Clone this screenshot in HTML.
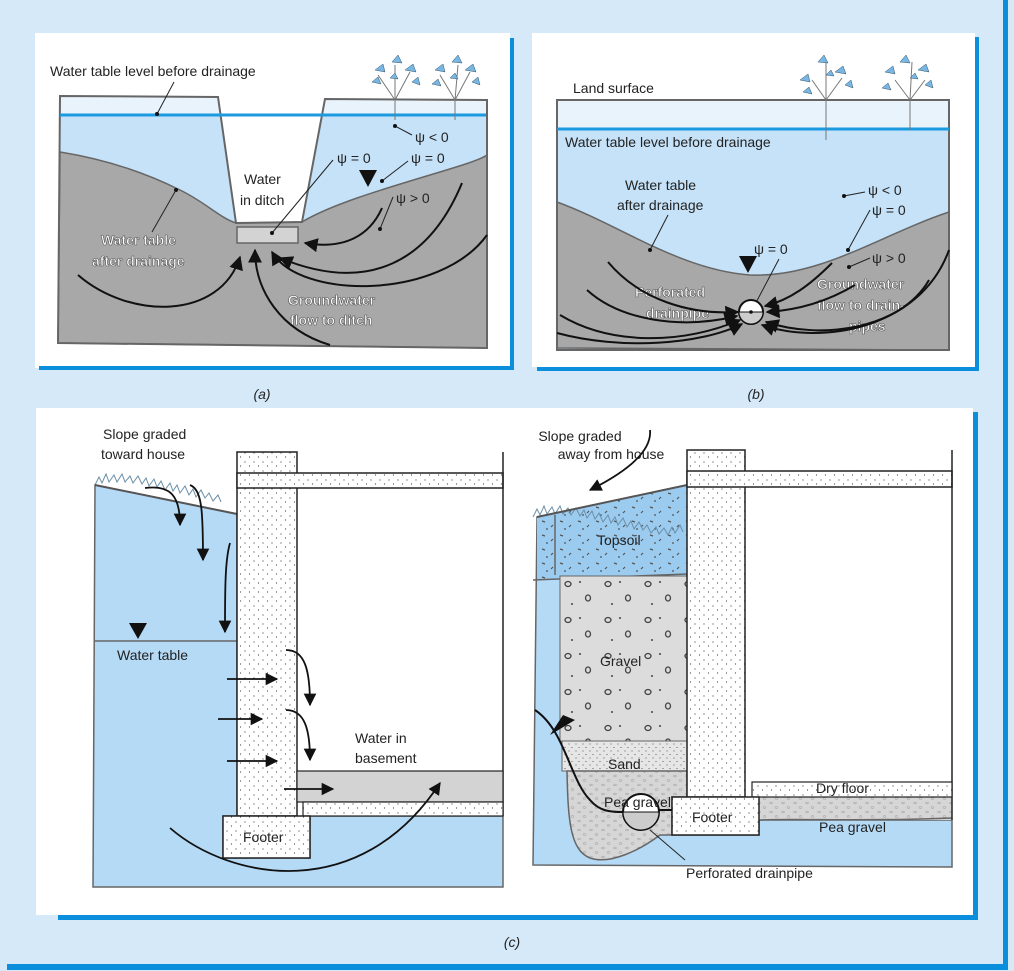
<!DOCTYPE html>
<html><head><meta charset="utf-8"><style>
html,body{margin:0;padding:0;background:#d6e9f8;}
svg{display:block;font-family:"Liberation Sans",sans-serif;}
</style></head><body>
<svg width="1014" height="971" viewBox="0 0 1014 971" xmlns="http://www.w3.org/2000/svg">
<defs>
<marker id="ah" viewBox="0 0 10 10" refX="9" refY="5" markerWidth="7" markerHeight="7" orient="auto"><path d="M0,0 L10,5 L0,10 z" fill="#111"/></marker>
<pattern id="dots" width="9" height="9" patternUnits="userSpaceOnUse"><rect width="9" height="9" fill="#fff"/><circle cx="2" cy="3" r="0.6" fill="#444"/><circle cx="6.5" cy="7" r="0.6" fill="#444"/></pattern>
<pattern id="sand" width="7" height="7" patternUnits="userSpaceOnUse"><rect width="7" height="7" fill="#e6e6e6"/><circle cx="2" cy="2" r="0.5" fill="#333"/><circle cx="5" cy="5.5" r="0.5" fill="#333"/></pattern>
<pattern id="pea" width="12" height="9" patternUnits="userSpaceOnUse"><rect width="12" height="9" fill="#d6d6d6"/><ellipse cx="3" cy="2" rx="1.5" ry="0.9" fill="none" stroke="#999" stroke-width="0.5"/><ellipse cx="8.5" cy="6.5" rx="1.5" ry="0.9" fill="none" stroke="#999" stroke-width="0.5"/></pattern>
<pattern id="top" width="18" height="14" patternUnits="userSpaceOnUse"><rect width="18" height="14" fill="#9ccbf0"/><path d="M2,3 l3,1 M11,9 l2,-2 M6,11 l2,0" stroke="#555" stroke-width="1.2"/></pattern>
<pattern id="grav" width="40" height="36" patternUnits="userSpaceOnUse"><rect width="40" height="36" fill="#dcdcdc"/><ellipse cx="8" cy="8" rx="3" ry="2.5" fill="none" stroke="#444" stroke-width="1.3"/><ellipse cx="28" cy="22" rx="2.5" ry="3" fill="none" stroke="#444" stroke-width="1.3"/><circle cx="20" cy="6" r="1" fill="#444"/><circle cx="12" cy="28" r="1" fill="#444"/></pattern>
</defs>
<rect width="1014" height="971" fill="#d6e9f8"/>
<rect x="1003" y="0" width="5" height="970" fill="#0b8fdc"/>
<rect x="7" y="964" width="1001" height="6" fill="#0b8fdc"/>

<!-- Panel a -->
<rect x="35" y="33" width="475" height="335" fill="#fff"/>
<rect x="510" y="38" width="4" height="332" fill="#0b8fdc"/>
<rect x="39" y="366" width="475" height="4" fill="#0b8fdc"/>
<polygon points="60,96 218,97 236,223 302,222 325,99 487,100 487,348 58,343" fill="#c5e2f8"/>
<polygon points="60,96 218,97 221,115 60,115" fill="#e8f3fc"/>
<polygon points="322,115 325,99 487,100 487,115" fill="#e8f3fc"/>
<path d="M60,152 C110,160 150,175 180,190 C205,202 220,218 236,223 L302,222 C330,205 380,190 430,175 C460,166 480,160 487,155 L487,348 L58,343 Z" fill="#a8a8a8" stroke="#666" stroke-width="1.5"/>
<polygon points="60,96 218,97 236,223 302,222 325,99 487,100 487,348 58,343" fill="none" stroke="#666" stroke-width="2"/>
<line x1="60" y1="115" x2="486" y2="115" stroke="#1b9ae0" stroke-width="3"/>
<rect x="237" y="227" width="61" height="16" fill="#d3d3d3" stroke="#666" stroke-width="1.5"/>
<text x="50" y="76" font-size="14" fill="#222">Water table level before drainage</text>
<line x1="174" y1="82" x2="157" y2="114" stroke="#222"/><circle cx="157" cy="114" r="2" fill="#111"/>
<text x="244" y="184" font-size="14" fill="#222">Water</text>
<text x="240" y="205" font-size="14" fill="#222">in ditch</text>
<line x1="333" y1="160" x2="272" y2="233" stroke="#222"/><circle cx="272" cy="233" r="2" fill="#111"/>
<text x="337" y="163" font-size="14" fill="#222">ψ = 0</text>
<text x="411" y="163" font-size="14" fill="#222">ψ = 0</text>
<line x1="408" y1="161" x2="382" y2="181" stroke="#222"/><circle cx="382" cy="181" r="2" fill="#111"/>
<polygon points="359,170 377,170 368,187" fill="#111"/>
<text x="415" y="142" font-size="14" fill="#222">ψ &lt; 0</text>
<line x1="412" y1="135" x2="395" y2="126" stroke="#222"/><circle cx="395" cy="126" r="2" fill="#111"/>
<text x="396" y="203" font-size="14" fill="#222">ψ &gt; 0</text>
<line x1="393" y1="197" x2="380" y2="229" stroke="#222"/><circle cx="380" cy="229" r="2" fill="#111"/>
<circle cx="176" cy="190" r="2" fill="#111"/>
<line x1="176" y1="190" x2="152" y2="232" stroke="#222"/>
<g font-size="14" font-weight="bold" fill="#fff" stroke="#555" stroke-width="0.6">
<text x="101" y="245">Water table</text><text x="92" y="266">after drainage</text>
<text x="288" y="305">Groundwater</text><text x="290" y="325">flow to ditch</text></g>
<g fill="none" stroke="#111" stroke-width="2" marker-end="url(#ah)">
<path d="M78,275 C130,320 220,320 240,257"/>
<path d="M330,345 C280,330 255,290 255,250"/>
<path d="M487,235 C440,300 300,300 272,252"/>
<path d="M382,208 C370,235 345,250 305,243"/>
<path d="M462,183 C430,260 370,295 280,258"/>
</g>
<!-- plants a -->
<g stroke="#777" stroke-width="1" fill="none"><path d="M395,100 L395,120 M395,100 L378,75 M395,100 L410,72 M395,100 L395,65 M455,100 L455,120 M455,100 L440,75 M455,100 L470,72 M455,100 L458,65"/></g>
<g fill="#79b6e4" stroke="#356" stroke-width="0.5">
<path d="M375,70 l8,-6 l2,8z M392,62 l6,-7 l4,8z M405,70 l8,-6 l3,8z M412,82 l6,-5 l2,8z M372,82 l6,-5 l3,7z M435,70 l8,-6 l2,8z M452,62 l6,-7 l4,8z M465,70 l8,-6 l3,8z M472,82 l6,-5 l2,8z M432,84 l6,-5 l3,7z M390,78 l5,-5 l3,6z M450,78 l5,-5 l3,6z"/></g>
<text x="262" y="399" font-size="14" font-style="italic" fill="#222" text-anchor="middle">(a)</text>

<!-- Panel b -->
<rect x="532" y="33" width="443" height="334" fill="#fff"/>
<rect x="975" y="37" width="4" height="334" fill="#0b8fdc"/>
<rect x="537" y="367" width="442" height="4" fill="#0b8fdc"/>
<rect x="557" y="100" width="392" height="250" fill="#c5e2f8"/>
<rect x="557" y="100" width="392" height="29" fill="#e8f3fc"/>
<path d="M557,202 C620,225 680,270 750,275 C820,278 880,235 949,212 L949,350 L557,348 Z" fill="#a8a8a8" stroke="#666" stroke-width="1.5"/>
<rect x="557" y="100" width="392" height="250" fill="none" stroke="#666" stroke-width="2"/>
<line x1="557" y1="129" x2="949" y2="129" stroke="#1b9ae0" stroke-width="3"/>
<text x="573" y="93" font-size="14" fill="#222">Land surface</text>
<text x="565" y="147" font-size="14" fill="#222">Water table level before drainage</text>
<text x="625" y="190" font-size="14" fill="#222">Water table</text>
<text x="617" y="210" font-size="14" fill="#222">after drainage</text>
<line x1="668" y1="215" x2="650" y2="250" stroke="#222"/><circle cx="650" cy="250" r="2" fill="#111"/>
<text x="754" y="254" font-size="14" fill="#222">ψ = 0</text>
<polygon points="739,256 757,256 748,273" fill="#111"/>
<line x1="779" y1="259" x2="751" y2="312" stroke="#222"/>
<text x="868" y="195" font-size="14" fill="#222">ψ &lt; 0</text>
<line x1="865" y1="192" x2="844" y2="196" stroke="#222"/><circle cx="844" cy="196" r="2" fill="#111"/>
<text x="872" y="215" font-size="14" fill="#222">ψ = 0</text>
<line x1="870" y1="210" x2="848" y2="250" stroke="#222"/><circle cx="848" cy="250" r="2" fill="#111"/>
<text x="872" y="263" font-size="14" fill="#222">ψ &gt; 0</text>
<line x1="870" y1="258" x2="849" y2="267" stroke="#222"/><circle cx="849" cy="267" r="2" fill="#111"/>
<g font-size="14" font-weight="bold" fill="#fff" stroke="#555" stroke-width="0.6">
<text x="635" y="297">Perforated</text><text x="646" y="318">drainpipe</text>
<text x="817" y="289">Groundwater</text><text x="817" y="310">flow to drain-</text><text x="849" y="331">pipes</text></g>
<g fill="none" stroke="#111" stroke-width="2" marker-end="url(#ah)">
<path d="M608,262 C640,300 690,315 738,312"/>
<path d="M587,290 C620,320 680,330 737,316"/>
<path d="M560,315 C610,345 680,345 740,320"/>
<path d="M557,333 C620,350 700,345 742,324"/>
<path d="M832,263 C810,285 790,300 765,306"/>
<path d="M855,285 C830,300 800,310 767,312"/>
<path d="M929,280 C900,330 820,340 766,322"/>
<path d="M949,250 C920,330 820,345 762,325"/>
</g>
<circle cx="751" cy="312" r="12" fill="#fff" stroke="#111" stroke-width="2"/>
<path d="M739,312 L763,312 A12,12 0 0 1 739,312z" fill="#ccc" stroke="#111" stroke-width="1"/>
<circle cx="751" cy="312" r="1.8" fill="#111"/>
<g stroke="#777" stroke-width="1" fill="none"><path d="M826,100 L826,140 M826,100 L812,80 M826,100 L842,78 M826,100 L826,60 M910,100 L910,130 M910,100 L895,80 M910,100 L925,80 M910,100 L912,62"/></g>
<g fill="#79b6e4" stroke="#356" stroke-width="0.5">
<path d="M800,80 l8,-6 l2,8z M818,62 l6,-7 l4,8z M835,72 l8,-6 l3,8z M845,85 l6,-5 l2,8z M803,92 l6,-5 l3,7z M885,72 l8,-6 l2,8z M900,62 l6,-7 l4,8z M918,70 l8,-6 l3,8z M925,85 l6,-5 l2,8z M882,88 l6,-5 l3,7z M826,75 l5,-5 l3,6z M910,78 l5,-5 l3,6z"/></g>
<text x="756" y="399" font-size="14" font-style="italic" fill="#222" text-anchor="middle">(b)</text>

<!-- Panel c -->
<rect x="36" y="408" width="937" height="507" fill="#fff"/>
<rect x="973" y="412" width="5" height="508" fill="#0b8fdc"/>
<rect x="58" y="915" width="920" height="5" fill="#0b8fdc"/>
<!-- left scene -->
<polygon points="95,485 237,514 237,816 223,816 223,858 310,858 310,816 503,816 503,887 93,887" fill="#b5daf6" stroke="#666" stroke-width="1.5"/>
<line x1="95" y1="641" x2="237" y2="641" stroke="#666" stroke-width="1.5"/>
<path d="M95,485 l4,-8 l3,6 l4,-9 l3,8 l5,-7 l3,7 l5,-8 l3,8 l5,-6 l3,7 l5,-7 l4,8 l4,-6 l3,8 l5,-7 l3,8 l4,-6 l4,9 l5,-7 l3,8 l4,-6 l3,8 l5,-7 l4,9 l4,-6 l3,8 l5,-7 l4,8 l4,-5 l4,8 l5,-6 l3,7" fill="none" stroke="#6a8fa8" stroke-width="1"/>
<line x1="95" y1="485" x2="237" y2="514" stroke="#555" stroke-width="2"/>
<rect x="237" y="452" width="60" height="364" fill="url(#dots)" stroke="#222" stroke-width="1.5"/>
<rect x="237" y="473" width="266" height="15" fill="url(#dots)" stroke="#222" stroke-width="1.5"/>
<line x1="503" y1="452" x2="503" y2="816" stroke="#222" stroke-width="1.5"/>
<rect x="297" y="771" width="206" height="31" fill="#d3d3d3" stroke="#222" stroke-width="1.2"/>
<rect x="303" y="802" width="200" height="14" fill="url(#dots)" stroke="#222" stroke-width="1.2"/>
<rect x="223" y="816" width="87" height="42" fill="url(#dots)" stroke="#222" stroke-width="1.5"/>
<polygon points="129,623 147,623 138,639" fill="#111"/>
<text x="103" y="439" font-size="14" fill="#222">Slope graded</text>
<text x="101" y="459" font-size="14" fill="#222">toward house</text>
<text x="117" y="660" font-size="14" fill="#222">Water table</text>
<text x="355" y="743" font-size="14" fill="#222">Water in</text>
<text x="355" y="763" font-size="14" fill="#222">basement</text>
<text x="243" y="842" font-size="14" fill="#222">Footer</text>
<g fill="none" stroke="#111" stroke-width="1.8" marker-end="url(#ah)">
<path d="M145,488 C170,485 180,495 180,525"/>
<path d="M190,485 C202,490 203,510 203,560"/>
<path d="M230,543 C225,560 225,590 225,632"/>
<path d="M227,679 L277,679"/><path d="M218,719 L262,719"/><path d="M227,761 L277,761"/>
<path d="M286,650 C305,650 310,670 310,705"/>
<path d="M286,710 C305,710 310,730 310,760"/>
<path d="M284,789 L333,789"/>
<path d="M170,828 C230,880 360,905 440,783"/>
</g>
<!-- right scene -->
<polygon points="537,517 687,485 687,797 672,797 672,835 759,835 759,820 952,820 952,867 533,865" fill="#b5daf6" stroke="#666" stroke-width="1.5"/>
<polygon points="537,517 687,485 687,574 537,580" fill="url(#top)"/>
<line x1="555" y1="515" x2="555" y2="575" stroke="#666" stroke-width="1.5"/>
<line x1="533" y1="580" x2="687" y2="574" stroke="#666" stroke-width="1.5"/>
<rect x="560" y="576" width="127" height="165" fill="url(#grav)" stroke="#666" stroke-width="1"/>
<rect x="562" y="741" width="125" height="30" fill="url(#sand)" stroke="#666" stroke-width="1"/>
<path d="M567,771 L687,771 L687,797 L672,797 L672,835 L660,835 C640,850 610,865 590,858 C570,850 568,820 567,771Z" fill="url(#pea)" stroke="#666" stroke-width="1.5"/>
<path d="M759,820 L952,820 L952,797 L759,797Z" fill="url(#pea)"/>
<path d="M759,820 C800,818 850,822 952,818" fill="none" stroke="#666" stroke-width="1.5"/>
<path d="M533,517 l4,-8 l3,6 l4,-9 l3,8 l5,-7 l3,7 l5,-8 l3,8 l5,-6 l3,7 l5,-7 l4,8 l4,-6 l3,8 l5,-7 l3,8 l4,-6 l4,9 l5,-7 l3,8 l4,-6 l3,8 l5,-7 l4,9 l4,-6 l3,8 l5,-7 l4,8 l4,-5 l4,8 l5,-6 l3,7 l5,-6 l4,7 l4,-8 l3,6 l5,-8 l3,7" fill="none" stroke="#6a8fa8" stroke-width="1"/>
<line x1="537" y1="517" x2="687" y2="485" stroke="#555" stroke-width="2"/>
<rect x="687" y="450" width="58" height="347" fill="url(#dots)" stroke="#222" stroke-width="1.5"/>
<rect x="687" y="471" width="265" height="16" fill="url(#dots)" stroke="#222" stroke-width="1.5"/>
<line x1="952" y1="450" x2="952" y2="820" stroke="#222" stroke-width="1.5"/>
<rect x="752" y="782" width="200" height="15" fill="url(#dots)" stroke="#222" stroke-width="1.2"/>
<rect x="672" y="797" width="87" height="38" fill="url(#dots)" stroke="#222" stroke-width="1.5"/>
<path d="M535,710 C565,730 570,780 590,800 C600,812 612,812 623,812" fill="none" stroke="#111" stroke-width="2"/>
<polygon points="563,715 550,735 575,720" fill="#111"/>
<path d="M645,810 L672,810" stroke="#111" stroke-width="2"/>
<circle cx="641" cy="812" r="18" fill="#fff" stroke="#111" stroke-width="2"/>
<path d="M623,812 L659,812 A18,18 0 0 1 623,812z" fill="#ccc" stroke="#111" stroke-width="1"/>
<line x1="650" y1="830" x2="685" y2="860" stroke="#222"/>
<path d="M650,430 C652,450 630,470 590,490" fill="none" stroke="#111" stroke-width="1.8" marker-end="url(#ah)"/>
<text x="580" y="441" font-size="14" fill="#222" text-anchor="middle">Slope graded</text>
<text x="611" y="459" font-size="14" fill="#222" text-anchor="middle">away from house</text>
<text x="597" y="545" font-size="14" fill="#222">Topsoil</text>
<text x="600" y="666" font-size="14" fill="#222">Gravel</text>
<text x="608" y="769" font-size="14" fill="#222">Sand</text>
<text x="604" y="807" font-size="14" fill="#222">Pea gravel</text>
<text x="692" y="822" font-size="14" fill="#222">Footer</text>
<text x="816" y="793" font-size="14" fill="#222">Dry floor</text>
<text x="819" y="832" font-size="14" fill="#222">Pea gravel</text>
<text x="686" y="878" font-size="14" fill="#222">Perforated drainpipe</text>
<text x="512" y="947" font-size="14" font-style="italic" fill="#222" text-anchor="middle">(c)</text>
</svg>
</body></html>
